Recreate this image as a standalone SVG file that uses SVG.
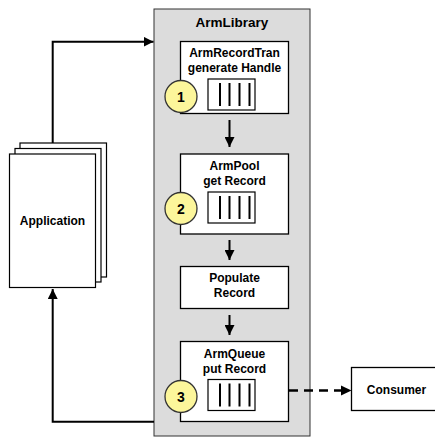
<svg xmlns="http://www.w3.org/2000/svg" width="435" height="438" viewBox="0 0 435 438">
  <style>
    text { font-family: "Liberation Sans", Arial, sans-serif; font-weight: bold; fill: #000; text-anchor: middle; }
    .lbl { font-size: 12px; }
    .title { font-size: 13.5px; }
    .num { font-size: 14px; }
    .box { fill: #fff; stroke: #000; stroke-width: 1.3; }
    .page { fill: #fff; stroke: #000; stroke-width: 1.2; }
    .slot { fill: #fff; stroke: #000; stroke-width: 1.2; }
    .bar { stroke: #000; stroke-width: 2; }
    .badge { fill: #fcf69b; stroke: #333; stroke-width: 1.3; }
    .flow { fill: none; stroke: #000; stroke-width: 2; }
    .dash { fill: none; stroke: #000; stroke-width: 2.5; stroke-dasharray: 9 6; }
  </style>
  <defs>
    <marker id="head" viewBox="0 0 10 10" refX="10" refY="5" markerWidth="5" markerHeight="5" orient="auto" markerUnits="strokeWidth">
      <path d="M0,0 L10,5 L0,10 Z" fill="#000"/>
    </marker>
    <g id="slots">
      <rect class="slot" x="0" y="0" width="47" height="31"/>
      <line class="bar" x1="12" y1="4" x2="12" y2="27"/>
      <line class="bar" x1="21.5" y1="4" x2="21.5" y2="27"/>
      <line class="bar" x1="31.5" y1="4" x2="31.5" y2="27"/>
      <line class="bar" x1="41.5" y1="4" x2="41.5" y2="27"/>
    </g>
  </defs>

  <!-- library container -->
  <g id="armlibrary">
    <rect x="154" y="9" width="156" height="427" fill="#dcdcdc" stroke="#333" stroke-width="1"/>
    <text class="title" x="232" y="27">ArmLibrary</text>
  </g>

  <!-- application (stacked pages) -->
  <g id="application">
    <rect class="page" x="20" y="143" width="86.5" height="134"/>
    <rect class="page" x="15" y="148.5" width="86" height="133.5"/>
    <rect class="page" x="9.5" y="154" width="86" height="133.5"/>
    <text class="lbl" x="52.5" y="225">Application</text>
  </g>

  <!-- step 1 -->
  <g id="record-tran">
    <rect class="box" x="180.5" y="41.5" width="108" height="72"/>
    <text class="lbl" x="234.5" y="57">ArmRecordTran</text>
    <text class="lbl" x="234.5" y="71.5">generate Handle</text>
    <use href="#slots" x="208" y="79"/>
    <circle class="badge" cx="181" cy="96.5" r="16"/>
    <text class="num" x="181" y="101.5">1</text>
  </g>

  <!-- step 2 -->
  <g id="pool">
    <rect class="box" x="180.5" y="154" width="108" height="80"/>
    <text class="lbl" x="234.5" y="169.5">ArmPool</text>
    <text class="lbl" x="234.5" y="184.5">get Record</text>
    <use href="#slots" x="208" y="192"/>
    <circle class="badge" cx="181" cy="208.5" r="16"/>
    <text class="num" x="181" y="213.5">2</text>
  </g>

  <!-- populate -->
  <g id="populate">
    <rect class="box" x="180.5" y="266.5" width="108" height="42"/>
    <text class="lbl" x="234.5" y="282">Populate</text>
    <text class="lbl" x="234.5" y="297">Record</text>
  </g>

  <!-- step 3 -->
  <g id="queue">
    <rect class="box" x="180.5" y="341.5" width="108" height="80"/>
    <text class="lbl" x="234.5" y="357.5">ArmQueue</text>
    <text class="lbl" x="234.5" y="372.5">put Record</text>
    <use href="#slots" x="208" y="379.5"/>
    <circle class="badge" cx="181" cy="396.5" r="16"/>
    <text class="num" x="181" y="401.5">3</text>
  </g>

  <!-- consumer (runs past the right edge) -->
  <g id="consumer">
    <rect class="box" x="351.5" y="367.5" width="92" height="43"/>
    <text class="lbl" x="396.5" y="394">Consumer</text>
  </g>

  <!-- connectors -->
  <g id="connectors">
    <path class="flow" d="M52.7,143 V41.7 H153.5" marker-end="url(#head)"/>
    <path class="flow" d="M154,421.7 H52.7 V289" marker-end="url(#head)"/>
    <path class="flow" d="M229.5,120 V147" marker-end="url(#head)"/>
    <path class="flow" d="M229.5,240 V260" marker-end="url(#head)"/>
    <path class="flow" d="M229.5,315 V335" marker-end="url(#head)"/>
    <path class="dash" d="M289,390.5 H343"/>
    <path d="M341,385.5 L351.5,390.5 L341,395.5 Z" fill="#000"/>
  </g>
</svg>
